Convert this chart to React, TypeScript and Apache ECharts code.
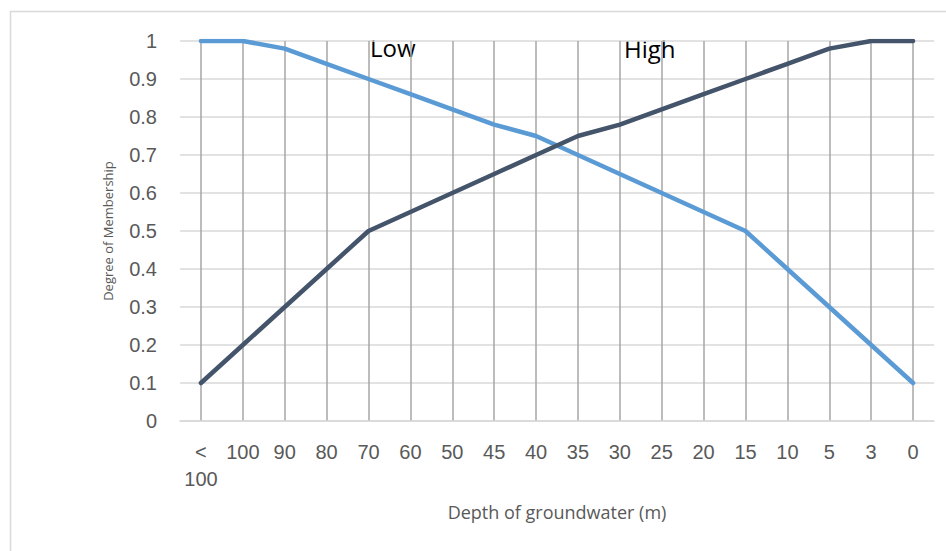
import React, { useEffect, useRef } from "react";
import * as echarts from "echarts";

const categories = ["< 100", "100", "90", "80", "70", "60", "50", "45", "40", "35", "30", "25", "20", "15", "10", "5", "3", "0"];
const lowValues = [1, 1, 0.98, 0.94, 0.9, 0.86, 0.82, 0.78, 0.75, 0.7, 0.65, 0.6, 0.55, 0.5, 0.4, 0.3, 0.2, 0.1];
const highValues = [0.1, 0.2, 0.3, 0.4, 0.5, 0.55, 0.6, 0.65, 0.7, 0.75, 0.78, 0.82, 0.86, 0.9, 0.94, 0.98, 1, 1];
const seriesNames = ["Low", "High"];
const xAxisTitle = "Depth of groundwater (m)";
const yAxisTitle = "Degree of Membership";

export default function App() {
  const ref = useRef<HTMLDivElement>(null);
  useEffect(() => {
    if (!ref.current) return;
    const chart = echarts.init(ref.current, null, { renderer: "svg" });
    chart.setOption({
      animation: false,
      backgroundColor: "#ffffff",
      grid: { left: 180, right: 12, top: 41, bottom: 130, containLabel: false },
      graphic: [
        {
          type: "rect",
          left: 8,
          top: 9,
          shape: { width: 1000, height: 600 },
          style: { fill: "none", stroke: "#d9d9d9", lineWidth: 1.5 },
          silent: true,
          z: -10,
        },
        {
          type: "text",
          left: 370,
          top: 35,
          style: { text: seriesNames[0], fontSize: 24, fill: "#000000", fontFamily: "Open Sans" },
        },
        {
          type: "text",
          left: 624,
          top: 36,
          style: { text: seriesNames[1], fontSize: 24, fill: "#000000", fontFamily: "Open Sans" },
        },
      ],
      xAxis: {
        type: "category",
        data: categories,
        boundaryGap: true,
        name: xAxisTitle,
        nameLocation: "middle",
        nameGap: 82,
        nameTextStyle: { fontSize: 18, color: "#595959", fontFamily: "Open Sans" },
        axisLine: { show: true, lineStyle: { color: "#d9d9d9", width: 1.5 } },
        axisTick: { show: false },
        axisLabel: {
          fontSize: 20,
          color: "#595959",
          fontFamily: "Liberation Sans",
          margin: 17,
          interval: 0,
          lineHeight: 27,
          formatter: (v: string) => v.replace(" ", "\n"),
        },
        splitLine: { show: true, alignWithLabel: true, lineStyle: { color: "#a6a6a6", width: 1.5 } },
      },
      yAxis: {
        type: "value",
        min: 0,
        max: 1,
        interval: 0.1,
        name: yAxisTitle,
        nameLocation: "middle",
        nameGap: 66,
        nameTextStyle: { fontSize: 13, color: "#595959", fontFamily: "Open Sans" },
        axisLine: { show: false },
        axisTick: { show: false },
        axisLabel: {
          fontSize: 20,
          color: "#595959",
          fontFamily: "Liberation Sans",
          margin: 23,
          formatter: (v: number) => String(Number(v.toFixed(1))),
        },
        splitLine: { show: true, lineStyle: { color: "#d9d9d9", width: 1.5 } },
      },
      series: [
        {
          name: seriesNames[0],
          type: "line",
          data: lowValues,
          symbol: "none",
          lineStyle: { color: "#5B9BD5", width: 4.5, cap: "round", join: "round" },
          z: 3,
        },
        {
          name: seriesNames[1],
          type: "line",
          data: highValues,
          symbol: "none",
          lineStyle: { color: "#44546A", width: 4.5, cap: "round", join: "round" },
          z: 4,
        },
      ],
    });
    return () => chart.dispose();
  }, []);
  return <div ref={ref} style={{ position: "fixed", left: 0, top: 0, width: 946, height: 551 }} />;
}
